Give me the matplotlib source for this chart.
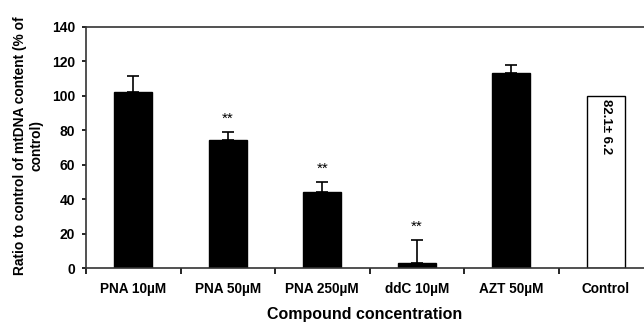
import matplotlib
matplotlib.use("Agg")
import matplotlib.pyplot as plt
import numpy as np

categories = ["PNA 10µM", "PNA 50µM", "PNA 250µM", "ddC 10µM", "AZT 50µM", "Control"]
values = [102, 74.2, 44.3, 2.7, 113.5, 100]
errors = [9.7, 4.8, 5.5, 13.7, 4.3, 0]
significance = ["", "**", "**", "**", "", ""]
bar_colors = ["black", "black", "black", "black", "black", "white"]
control_note = "82.1± 6.2"

plt.rcParams['font.family'] = ['Liberation Sans', 'DejaVu Sans']
plt.rcParams['font.weight'] = 'bold'

fig = plt.figure(figsize=(6.44, 3.24), dpi=100)
ax = fig.add_axes([86/644, 56/324, 567/644, 241/324])

x = np.arange(len(categories))
ax.bar(x, values, width=0.4, color=bar_colors, edgecolor="black", linewidth=1.0, zorder=2)
for xi, v, e in zip(x, values, errors):
    if e > 0:
        ax.errorbar(xi, v, yerr=[[0], [e]], fmt="none", ecolor="black",
                    elinewidth=1.2, capsize=4, capthick=1.2, zorder=3)
for xi, v, e, s in zip(x, values, errors, significance):
    if s:
        ax.text(xi, v + e + 3.5, s, ha="center", va="bottom", fontsize=11,
                fontweight="normal")

ax.text(x[-1], values[-1] - 2, control_note, rotation=-90, ha="center", va="top",
        fontsize=9.5, fontweight="bold")

ax.set_xlim(-0.5, len(categories) - 0.5)
ax.set_ylim(0, 140)
ax.set_yticks(np.arange(0, 141, 20))
ax.set_xticks(np.arange(-0.5, len(categories), 1.0))
ax.set_xticklabels([])
ax.set_xticks(x, minor=True)
ax.set_xticklabels(categories, minor=True)
ax.tick_params(axis="x", which="minor", length=0, pad=10, labelsize=9.8)
ax.tick_params(axis="x", which="major", length=4, width=1.2, direction="out")
ax.tick_params(axis="y", length=3, width=1.2, direction="out", labelsize=10, pad=5)
for lab in ax.get_xticklabels(minor=True) + ax.get_yticklabels():
    lab.set_fontweight("bold")

for side in ["left", "bottom", "top"]:
    ax.spines[side].set_linewidth(1.2)
    ax.spines[side].set_color("#333333")
ax.spines["right"].set_visible(False)

ax.set_xlabel("Compound concentration", fontsize=11.5, fontweight="bold", labelpad=8)
ax.set_ylabel("Ratio to control of mtDNA content (% of\ncontrol)", fontsize=9.9,
              fontweight="bold", labelpad=8, linespacing=1.25)
ax.xaxis.set_label_coords((365 - 86) / 567, -0.16)
ax.yaxis.set_label_coords(-(86 - 44) / 567, (268 - 146) / 241)

fig.savefig("out.png", dpi=100)
